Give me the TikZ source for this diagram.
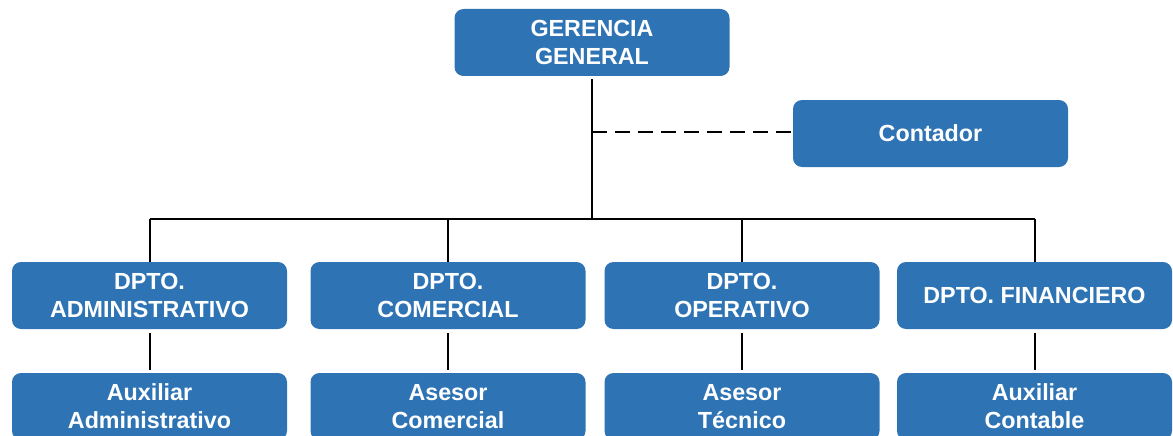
\documentclass[tikz,border=0pt]{standalone}
\usepackage{fontspec}
\setmainfont{Liberation Sans}
\definecolor{boxblue}{RGB}{46,116,181}
\begin{document}
\begin{tikzpicture}[x=1pt,y=-1pt,
  orgbox/.style={fill=boxblue, draw=none, rounded corners=9pt, minimum width=275pt, minimum height=67pt, inner sep=0pt, text=white, align=center, font=\fontsize{23.3}{28}\selectfont\bfseries},
  conn/.style={line width=2pt, black},
  dashconn/.style={line width=2pt, black, dash pattern=on 15pt off 8pt}]
\useasboundingbox (0,0) rectangle (1173,436);
\clip (0,0) rectangle (1173,436);
\node[orgbox] (gg) at (592,42.5) {GERENCIA\\GENERAL};
\node[orgbox] (cont) at (930.5,133.5) {Contador};
\node[orgbox] (adm) at (149.5,295.5) {DPTO.\\ADMINISTRATIVO};
\node[orgbox] (com) at (448,295.5) {DPTO.\\COMERCIAL};
\node[orgbox] (ope) at (742,295.5) {DPTO.\\OPERATIVO};
\node[orgbox] (fin) at (1034.5,295.5) {DPTO. FINANCIERO};
\node[orgbox] (aux) at (149.5,406.5) {Auxiliar\\Administrativo};
\node[orgbox] (ase) at (448,406.5) {Asesor\\Comercial};
\node[orgbox] (tec) at (742,406.5) {Asesor\\Técnico};
\node[orgbox] (con) at (1034.5,406.5) {Auxiliar\\Contable};
\coordinate (bus) at (592,219);
\coordinate (dj) at (592,132);
\draw[conn] ([yshift=-3pt]gg.south) -- (bus);
\draw[dashconn] (dj) -- (cont.west |- dj);
\draw[conn] (adm.north |- bus) -- (fin.north |- bus);
\foreach \n in {adm,com,ope,fin}{
  \draw[conn] (\n.north |- bus) -- (\n.north);
}
\draw[conn] ([yshift=-4pt]adm.south) -- ([yshift=3pt]aux.north);
\draw[conn] ([yshift=-4pt]com.south) -- ([yshift=3pt]ase.north);
\draw[conn] ([yshift=-4pt]ope.south) -- ([yshift=3pt]tec.north);
\draw[conn] ([yshift=-4pt]fin.south) -- ([yshift=3pt]con.north);
\end{tikzpicture}
\end{document}
